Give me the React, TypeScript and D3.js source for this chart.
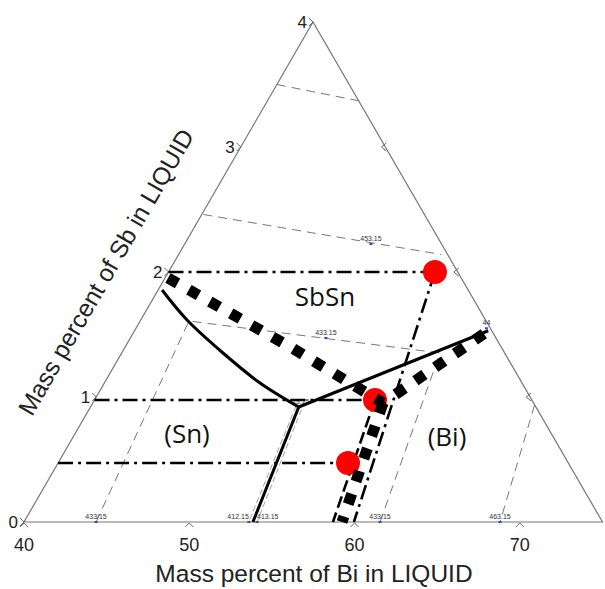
import * as d3 from "d3";
import React from "react";

// axis ticks
const biTicks = [40, 50, 60, 70];
const sbTicks = [0, 1, 2, 3, 4];
const rightTicks = [1, 2, 3];

// triangle corners [Bi, Sb]
const corners: [number, number][] = [[40, 0], [75, 0], [40, 4]];

// isotherms (thin grey dashes)
const iso473: [number, number][] = [[40, 3.5], [45.5, 3.37]];
const iso453a: [number, number][] = [[40.1, 2.46], [55.9, 2.14]];
const iso433: [number, number][] = [[44.36, 0], [42.95, 1.608], [59.26, 1.352], [61.54, 0]];
const iso453b: [number, number][] = [[66.8, 0.936], [68.8, 0]];
const isoSnBiL: [number, number][] = [[52.4, 0.93], [53.6, 0]];
const isoSnBiR: [number, number][] = [[52.85, 0.9], [54.1, 0]];

// phase boundaries (solid)
const sbsnSnCurve: [number, number][] = [[40.24, 1.856], [42.8, 1.616], [46.13, 1.352], [49.42, 1.112], [52.6, 0.92]];
const snBiLine: [number, number][] = [[52.6, 0.92], [53.85, 0]];
const sbsnBiLine: [number, number][] = [[52.6, 0.92], [61.4, 1.53]];

// thick dotted boundaries
const dottedUpper: [number, number][] = [[40.18, 1.952], [50.13, 1.392], [57.56, 0.952], [61.4, 1.53]];
const dottedLower: [number, number][] = [[57.56, 0.952], [59.24, 0]];

// sample compositions (red dots)
const samples: [number, number][] = [[56.12, 2.0], [56.97, 0.976], [57.54, 0.472]];
// dash-dot sections
const sectionTop: [number, number][] = [[56.12, 2.0], [59.96, 0]];
const sectionMid: [number, number][] = [[56.97, 0.976], [58.69, 0]];

// small isotherm labels [Bi, Sb, text, anchor]
const isoLabels: [number, number, string, string][] = [
  [51.27, 2.224, "453.15", "middle"],
  [51.83, 1.472, "433.15", "middle"],
  [52.6, 0.92, "413.15", "middle"],
  [44.36, 0, "433/15", "middle"],
  [53.6, 0, "412.15", "end"],
  [54.1, 0, "413.15", "start"],
  [61.54, 0, "433/15", "middle"],
  [68.8, 0, "463.15", "middle"],
  [61.2, 1.55, "44", "middle"],
];

const W = 605;
const H = 589;

const xBi = d3.scaleLinear().domain([40, 75]).range([24, 602.5]);
const ySb = d3.scaleLinear().domain([0, 4]).range([522, 22]);
const shear = d3.scaleLinear().domain([0, 4]).range([0, 289]);

const px = (d: [number, number]) => xBi(d[0]) + shear(d[1]);
const py = (d: [number, number]) => ySb(d[1]);

const line = d3.line<[number, number]>().x(px).y(py);
const curve = d3.line<[number, number]>().x(px).y(py).curve(d3.curveCatmullRom);

const DASHDOT = "15 5 3 5";

export default function App() {
  const left = (sb: number): [number, number] => [40, sb];
  const right = (sb: number): [number, number] => [75 - 8.75 * sb, sb];

  return (
    <svg width={W} height={H} style={{ position: "absolute", left: 0, top: 0, background: "#fff" }}>
      {/* triangle */}
      <path d={line(corners)! + "Z"} fill="none" stroke="#777" strokeWidth={1.2} />

      {/* ticks */}
      {biTicks.map((t) => (
        <g key={"b" + t}>
          <path d={`M${xBi(t) - 4},${ySb(0) + 5}L${xBi(t)},${ySb(0) + 1}L${xBi(t) + 4},${ySb(0) + 5}`} fill="none" stroke="#666" strokeWidth={1} />
          <text x={xBi(t)} y={551} textAnchor="middle" fontFamily="Liberation Sans" fontSize={18} fill="#222">{t}</text>
        </g>
      ))}
      {sbTicks.map((t) => {
        const p = left(t);
        return (
          <g key={"s" + t}>
            <path d={`M${px(p) - 4},${py(p) - 4}L${px(p)},${py(p)}L${px(p) - 4},${py(p) + 4}`} fill="none" stroke="#666" strokeWidth={1} />
            <text x={px(p) - 6} y={py(p) + 6} textAnchor="end" fontFamily="Liberation Sans" fontSize={17} fill="#222">{t}</text>
          </g>
        );
      })}
      {rightTicks.map((t) => {
        const p = right(t);
        return (
          <path key={"r" + t} d={`M${px(p) + 1},${py(p) - 4}L${px(p) - 4},${py(p)}L${px(p) + 1},${py(p) + 4}`} fill="none" stroke="#666" strokeWidth={1} />
        );
      })}

      {/* isotherms */}
      {[iso473, iso453a, iso433, iso453b].map((d, i) => (
        <path key={"iso" + i} d={line(d)!} fill="none" stroke="#777" strokeWidth={1} strokeDasharray="9 6" />
      ))}
      {[isoSnBiL, isoSnBiR].map((d, i) => (
        <path key={"isb" + i} d={line(d)!} fill="none" stroke="#888" strokeWidth={0.8} strokeDasharray="6 3" />
      ))}
      {isoLabels.map(([bi, sb, t, anchor], i) => {
        const p: [number, number] = [bi, sb];
        return (
          <g key={"il" + i}>
            <rect x={px(p) - 1.5} y={py(p) - 1} width={3} height={2} fill="#3344dd" />
            <text x={px(p)} y={py(p) - 3} textAnchor={anchor} fontFamily="Liberation Sans" fontSize={7} fill="#333">{t}</text>
          </g>
        );
      })}

      {/* dash-dot sections */}
      {samples.map((s, i) => (
        <path key={"h" + i} d={line([left(s[1]), s])!} fill="none" stroke="#000" strokeWidth={2.6} strokeDasharray={DASHDOT} />
      ))}
      <path d={line(sectionTop)!} fill="none" stroke="#000" strokeWidth={2.6} strokeDasharray={DASHDOT} />
      <path d={line(sectionMid)!} fill="none" stroke="#000" strokeWidth={2.6} strokeDasharray="12 5" />

      {/* samples */}
      {samples.map((s, i) => (
        <circle key={"c" + i} cx={px(s)} cy={py(s)} r={12} fill="#ff0000" />
      ))}

      {/* phase boundaries */}
      <path d={curve(sbsnSnCurve)!} fill="none" stroke="#000" strokeWidth={3} />
      <path d={line(snBiLine)!} fill="none" stroke="#000" strokeWidth={3} />
      <path d={line(sbsnBiLine)!} fill="none" stroke="#000" strokeWidth={3} />

      {/* thick dotted */}
      {[dottedUpper, dottedLower].map((d, i) => (
        <path key={"dt" + i} d={line(d)!} fill="none" stroke="#000" strokeWidth={11} strokeDasharray="11 13" />
      ))}

      {/* region labels */}
      <text x={325} y={306} textAnchor="middle" fontFamily="Open Sans" fontSize={26} fill="#111">SbSn</text>
      <text x={187} y={443} textAnchor="middle" fontFamily="Open Sans" fontSize={26} fill="#111">(Sn)</text>
      <text x={447} y={446} textAnchor="middle" fontFamily="Open Sans" fontSize={26} fill="#111">(Bi)</text>

      {/* axis titles */}
      <text x={314} y={582} textAnchor="middle" fontFamily="Liberation Sans" fontSize={24.5} fill="#222">Mass percent of Bi in LIQUID</text>
      <text transform="translate(106,272) rotate(-60)" textAnchor="middle" dy="0.35em" fontFamily="Liberation Sans" fontSize={24.5} fill="#222">Mass percent of Sb in LIQUID</text>
    </svg>
  );
}
